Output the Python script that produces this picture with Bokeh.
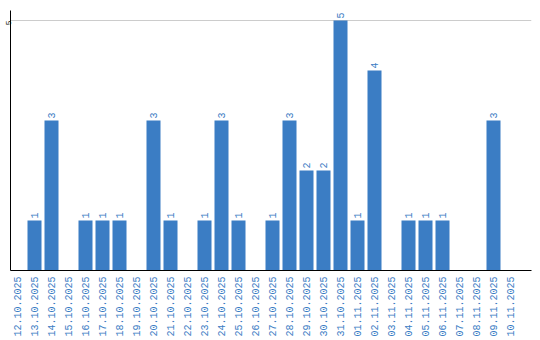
import math
from bokeh.plotting import figure
from bokeh.models import Range1d, FixedTicker, ColumnDataSource
from bokeh.core.properties import value
from bokeh.embed import file_html
from bokeh.resources import INLINE

dates = ["12.10.2025", "13.10.2025", "14.10.2025", "15.10.2025", "16.10.2025",
         "17.10.2025", "18.10.2025", "19.10.2025", "20.10.2025", "21.10.2025",
         "22.10.2025", "23.10.2025", "24.10.2025", "25.10.2025", "26.10.2025",
         "27.10.2025", "28.10.2025", "29.10.2025", "30.10.2025", "31.10.2025",
         "01.11.2025", "02.11.2025", "03.11.2025", "04.11.2025", "05.11.2025",
         "06.11.2025", "07.11.2025", "08.11.2025", "09.11.2025", "10.11.2025"]
counts = [0, 1, 3, 0, 1, 1, 1, 0, 3, 1,
          0, 1, 3, 1, 0, 1, 3, 2, 2, 5,
          1, 4, 0, 1, 1, 1, 0, 0, 3, 0]
y_ticks = [5]

BLUE = "#3b7dc4"
FONT = "Liberation Mono"

xs = list(range(len(dates)))
src = ColumnDataSource(dict(x=xs, y=counts))
lab_x = [i for i, c in zip(xs, counts) if c > 0]
lab_y = [c for c in counts if c > 0]
lab_t = [str(c) for c in counts if c > 0]
lab_src = ColumnDataSource(dict(x=lab_x, y=lab_y, t=lab_t))

p = figure(frame_width=521, frame_height=260, output_backend="svg",
           toolbar_location=None,
           x_range=Range1d(-7 / 17, 514 / 17), y_range=Range1d(0, 5.2),
           min_border_left=10, min_border_right=9, min_border_top=10,
           min_border_bottom=0)
p.outline_line_color = None
p.background_fill_color = "white"

p.vbar(x="x", top="y", bottom=0, width=14 / 17, source=src,
       fill_color=BLUE, line_color=None)

p.text(x="x", y="y", text="t", source=lab_src, angle=math.pi / 2,
       text_align="left", text_baseline="middle", y_offset=-2,
       text_font=value(FONT), text_font_size="10px", text_color=BLUE)

p.xaxis.ticker = FixedTicker(ticks=xs)
p.xaxis.major_label_overrides = {i: d for i, d in zip(xs, dates)}
p.xaxis.major_label_orientation = math.pi / 2
p.xaxis.major_label_text_font = FONT
p.xaxis.major_label_text_font_size = "10px"
p.xaxis.major_label_text_color = BLUE
p.xaxis.major_tick_line_color = None
p.xaxis.minor_tick_line_color = None
p.xaxis.major_tick_out = 0
p.xaxis.major_label_standoff = 6
p.xaxis.axis_line_color = "black"

p.yaxis.ticker = FixedTicker(ticks=y_ticks)
p.yaxis.major_label_orientation = math.pi / 2
p.yaxis.major_label_text_font = FONT
p.yaxis.major_label_text_font_size = "8px"
p.yaxis.major_label_text_color = "black"
p.yaxis.major_tick_line_color = None
p.yaxis.minor_tick_line_color = None
p.yaxis.major_tick_out = 0
p.yaxis.major_tick_in = 0
p.yaxis.major_label_standoff = 2
p.yaxis.axis_line_color = "black"

p.xgrid.grid_line_color = None
p.ygrid.ticker = FixedTicker(ticks=y_ticks)
p.ygrid.grid_line_color = "#cccccc"

open("out.html", "w").write(file_html(p, INLINE))
